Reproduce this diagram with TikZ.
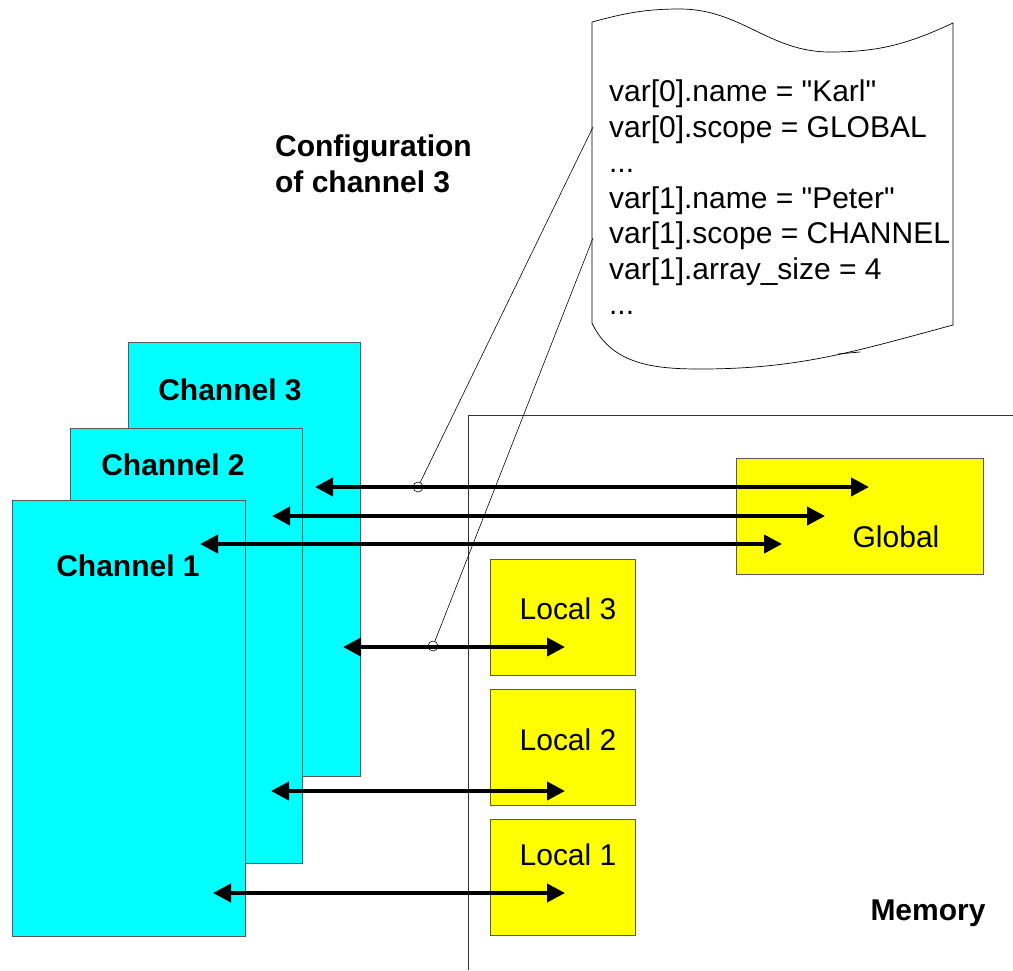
\documentclass[tikz,border=0pt]{standalone}
\usepackage{fontspec}
\setmainfont{Liberation Sans}[Ligatures=TeXOff]
\usetikzlibrary{positioning,arrows.meta}

\definecolor{chanfill}{RGB}{0,255,255}
\definecolor{memfill}{RGB}{255,255,0}
\newcommand{\pxu}{0.03cm}
\tikzset{
  chanbox/.style={draw=black!65, fill=chanfill, inner sep=0pt, line width=0.8pt},
  membox/.style={draw=black!65, fill=memfill, inner sep=0pt, line width=0.8pt},
  link/.style={{Triangle[length=0.54cm,width=0.54cm]}-{Triangle[length=0.54cm,width=0.54cm]}, line width=0.12cm},
  tag/.style={font=\fontsize{25.6}{30.3}\selectfont},
  btag/.style={font=\fontsize{25.6}{30.9}\selectfont\bfseries},
  pin/.style={circle, draw, inner sep=0pt, minimum size=10*\pxu, line width=0.5pt}
}

\begin{document}
\begin{tikzpicture}[x=\pxu, y=-\pxu]
  \useasboundingbox (0,0) rectangle (1013,970);

  % memory area
  \draw[black!80, line width=0.6pt] (468,970) -- (468,415) -- (1013,415);
  \node[btag] (memlab) at (928,913) {Memory};

  % channels, back to front
  \node[chanbox, minimum width=232*\pxu, minimum height=434*\pxu] (ch3) at (244,559) {};
  \node[btag] (ch3lab) at (230,390) {Channel 3};
  \node[chanbox, minimum width=232*\pxu, minimum height=435*\pxu] (ch2) at (186,645.5) {};
  \node[btag] (ch2lab) at (173,465) {Channel 2};
  \node[chanbox, minimum width=233*\pxu, minimum height=436*\pxu] (ch1) at (128.5,718) {};
  \node[btag] (ch1lab) at (128,566) {Channel 1};

  % memory blocks
  \node[membox, minimum width=247*\pxu, minimum height=116*\pxu] (glob) at (859.5,516) {};
  \node[tag] at (896,537) {Global};
  \node[membox, minimum width=145*\pxu, minimum height=116*\pxu] (loc3) at (562.5,617) {};
  \node[tag] at (568,609) {Local 3};
  \node[membox, minimum width=145*\pxu, minimum height=116*\pxu] (loc2) at (562.5,747) {};
  \node[tag] at (568,740) {Local 2};
  \node[membox, minimum width=145*\pxu, minimum height=116*\pxu] (loc1) at (562.5,877) {};
  \node[tag] at (568,855) {Local 1};

  % accesses
  \foreach \n/\a/\b/\y in {g3/315/869/487, g2/272/825/516, g1/200/782/544,
                           l3/343/565/647, l2/271/565/791, l1/213/565/893} {
    \coordinate (from\n) at (\a,\y);
    \coordinate (to\n) at (\b,\y);
    \draw[link] (from\n) -- (to\n);
  }

  % configuration sheet
  \draw[line width=0.6pt] (592,22) to[out=15,in=180] (680,9) to[out=0,in=180] (830,52)
    to[out=0,in=205] (953,23) -- (953,325) to[out=195,in=0] (700,369)
    to[out=180,in=-65] (592,323) -- cycle;
  \draw[line width=0.6pt] (838,354) -- (860,352);
  \node[tag, anchor=west, align=left] (sheet) at (605,197.5) {var[0].name = "Karl"\\
    var[0].scope = GLOBAL\\ ...\\ var[1].name = "Peter"\\ var[1].scope = CHANNEL\\
    var[1].array\_size = 4\\ ...};
  \node[btag, anchor=west, align=left] (conflab) at (271,164) {Configuration\\ of channel 3};

  % callouts
  \node[pin] (pina) at (418,487) {};
  \node[pin] (pinb) at (433,646) {};
  \coordinate (sheeta) at (593,127);
  \coordinate (sheetb) at (593,238);
  \draw[line width=0.5pt] (pina) -- (sheeta);
  \draw[line width=0.5pt] (pinb) -- (sheetb);
\end{tikzpicture}
\end{document}
